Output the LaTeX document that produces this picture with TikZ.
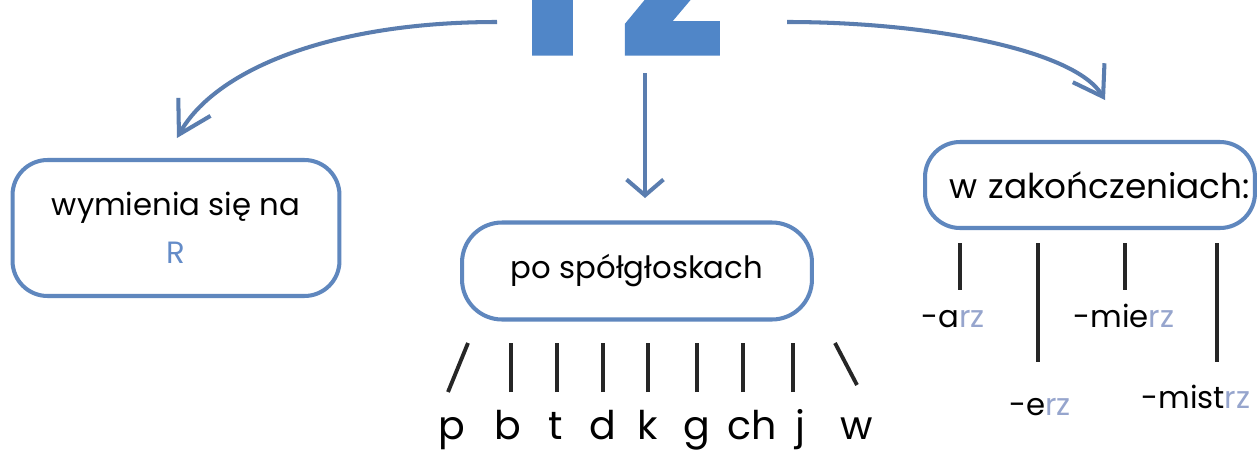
\documentclass[tikz,border=0pt]{standalone}
\usepackage{fontspec}
\setmainfont{Poppins}
\newfontfamily\rzfont{Poppins}[BoldFeatures={FakeBold=2.5}]
\usetikzlibrary{arrows.meta, positioning}
\definecolor{rzblue}{RGB}{80,134,200}
\definecolor{frameblue}{RGB}{95,135,190}
\definecolor{arrowblue}{RGB}{90,125,175}
\definecolor{rblue}{RGB}{100,140,200}
\definecolor{lightrz}{RGB}{150,165,205}

\begin{document}
\begin{tikzpicture}[x=0.02cm, y=-0.02cm,
  box/.style={draw=frameblue, line width=2.3pt, rounded corners=0.7cm, align=center,
    font=\fontsize{17.5}{27}\selectfont},
  arr/.style={draw=arrowblue, line width=2.3pt, -{Straight Barb[length=#1, width=21pt]}},
  arr/.default=14pt,
  letter/.style={font=\fontsize{22.5}{22.5}\selectfont, anchor=base, inner sep=0pt},
  bar/.style={line width=2.2pt, black!85},
  suffix/.style={font=\fontsize{17.5}{17.5}\selectfont, anchor=base, inner sep=0pt}]
  \useasboundingbox (0,0) rectangle (1259,450);
  \clip (0,0) rectangle (1259,450);
  \fill[white] (0,0) rectangle (1259,450);

  % Big title (cut at the top)
  \node[font=\fontsize{118}{118}\selectfont\rzfont\bfseries, text=rzblue, anchor=base, inner sep=0pt]
    (rz) at (623,53) {r\kern6pt z};

  % Boxes
  \node[box, minimum width=6.54cm, minimum height=2.72cm] (swap) at (176,228)
    {wymienia się na\\\textcolor{rblue}{R}};
  \node[box, minimum width=7.0cm, minimum height=1.94cm, rounded corners=0.8cm] (cons) at (637,271)
    {po spółgłoskach};
  \node[box, minimum width=6.6cm, minimum height=1.72cm, text width=6.4cm, align=right,
    inner xsep=0.1cm, font=\fontsize{19.5}{27}\selectfont] (ends) at (1090,185)
    {w zakończeniach:};

  % Arrows from the title
  \coordinate (lstart) at (497,22);
  \coordinate (lend) at (177,138);
  \coordinate (mstart) at (645,73);
  \coordinate (mend) at (645,198);
  \coordinate (rstart) at (787,22);
  \coordinate (rend) at (1105,100);
  \draw[arr=18pt] (lstart) .. controls (330,22) and (215,70) .. (lend);
  \draw[arr=9pt] (mstart) -- (mend);
  \draw[arr=16pt] (rstart) .. controls (930,22) and (1075,50) .. (rend);

  % Consonants
  \foreach \name/\x/\txt in {p/452/p, b/508/b, t/556/t, d/603/d, k/648/k,
      g/697/g, ch/752/ch, j/800/j, w/857/w}
    \node[letter] (\name) at (\x,439) {\txt};
  \foreach \xb/\yb/\xt in {448/392/468, 511/392/511, 557/392/557, 603/392/603,
      648/392/648, 697/392/697, 743/392/743, 793/392/793, 857/385/835}
    \draw[bar] (\xb,\yb) -- (\xt,343);

  % Endings
  \node[suffix] (arz) at (953,327) {-a\textcolor{lightrz}{rz}};
  \node[suffix] (erz) at (1040,415) {-e\textcolor{lightrz}{rz}};
  \node[suffix] (mierz) at (1124,327) {-mie\textcolor{lightrz}{rz}};
  \node[suffix] (mistrz) at (1196,408) {-mist\textcolor{lightrz}{rz}};
  \foreach \x/\y in {960/290, 1038/362, 1125/290, 1217/362}
    \draw[bar] (\x,243) -- (\x,\y);
\end{tikzpicture}
\end{document}
